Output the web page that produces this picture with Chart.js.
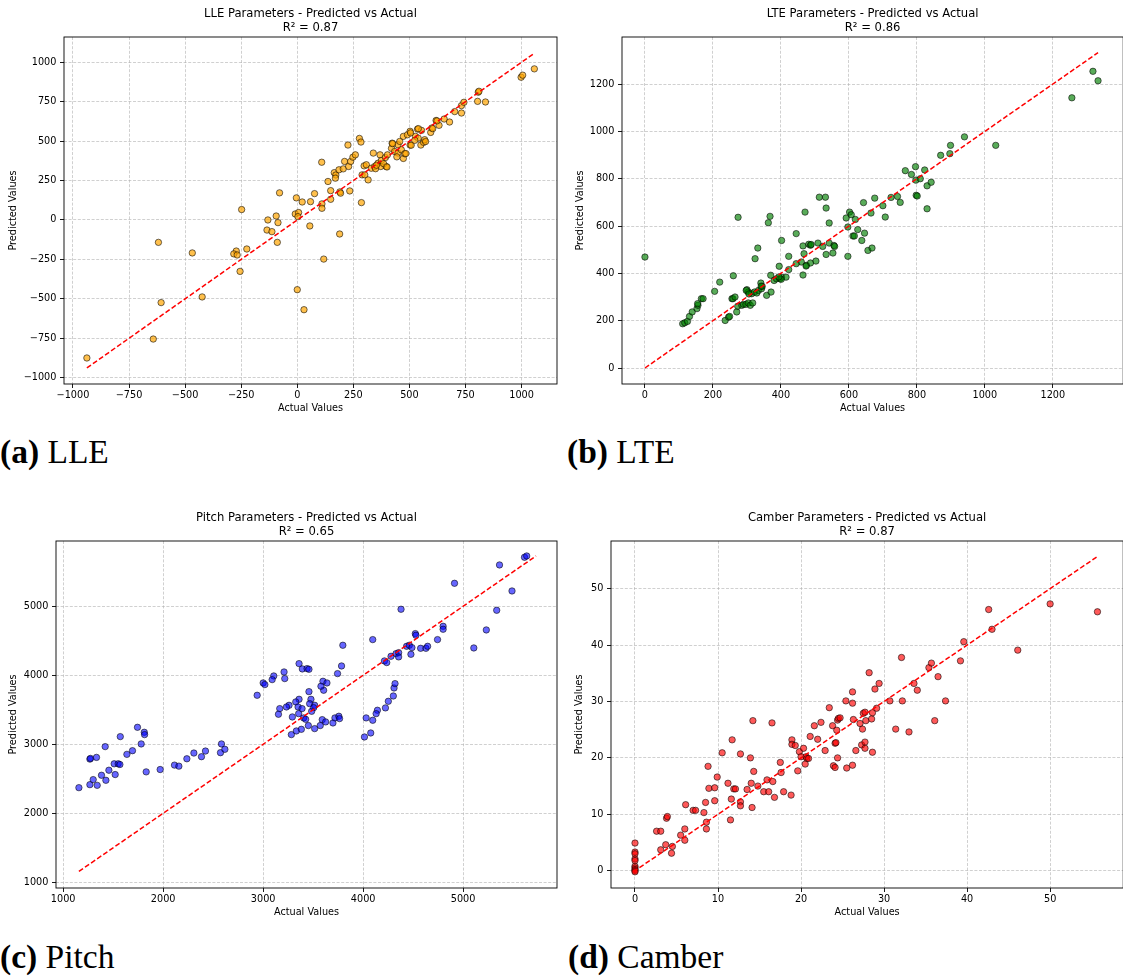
<!DOCTYPE html>
<html><head><meta charset="utf-8">
<script src="https://cdn.jsdelivr.net/npm/chart.js@4.4.1/dist/chart.umd.min.js"></script>
<style>
html,body{margin:0;padding:0;background:#fff;width:1123px;height:976px;overflow:hidden;position:relative}
canvas{position:absolute}
.cap{position:absolute;font-family:"Liberation Serif","Times New Roman",serif;font-size:33.5px;line-height:34px;color:#000;white-space:nowrap}
.cap b{font-weight:bold}
</style></head><body>
<canvas id="cA" width="562" height="420" style="left:0;top:0"></canvas>
<canvas id="cB" width="566" height="420" style="left:562px;top:0"></canvas>
<canvas id="cC" width="562" height="420" style="left:0;top:500px"></canvas>
<canvas id="cD" width="566" height="420" style="left:562px;top:500px"></canvas>
<div class="cap" style="left:0;top:435px"><b>(a)</b> LLE</div>
<div class="cap" style="left:567px;top:435px"><b>(b)</b> LTE</div>
<div class="cap" style="left:0;top:940px"><b>(c)</b> Pitch</div>
<div class="cap" style="left:568px;top:940px"><b>(d)</b> Camber</div>
<script>
// ---------- LLE ----------
const lleActual = [-938,-642,-607,-619,-468,-424,-272,-283,-268,-225,-255,-248,-135,-113,-131,-94,-86,-89,-79,0,30,-4,-9,6,3,22,59,56,77,110,110,109,118,137,149,149,165,172,170,190,193,189,186,205,211,229,234,238,248,259,226,277,284,286,289,301,298,308,316,330,345,360,339,369,375,372,396,393,402,420,423,434,449,449,457,464,473,479,473,491,503,503,527,536,539,551,554,563,568,595,600,619,632,655,679,702,732,732,743,804,839,807,810,998,1005,1057,425,444,484,508,505,524,540,572,604,623,349,353,385,400];
const llePredicted = [-875,-755,-524,-142,-209,-488,-197,-215,-222,-184,-326,66,-64,-74,0,25,-17,-142,172,-442,-569,140,38,47,21,114,116,-38,167,102,74,366,-248,244,186,131,300,285,265,178,170,-89,318,324,371,339,184,371,398,413,475,517,494,110,286,286,343,350,254,328,339,360,424,413,377,339,339,396,413,454,487,434,424,477,498,445,390,420,530,540,562,475,530,576,519,475,568,492,509,555,583,631,600,640,621,687,725,678,746,752,748,810,816,905,918,958,484,400,421,474,552,505,579,497,579,628,325,347,357,336];
const lleTicks = [-1000,-750,-500,-250,0,250,500,750,1000];
const lleXRange = [-1040,1158];
const lleYRange = [-1040,1160];

// ---------- LTE ----------
const lteActual = [0,111,117,125,131,139,153,156,155,166,171,205,220,260,274,236,246,249,256,259,265,270,273,285,290,297,304,310,317,300,304,314,322,329,334,343,341,345,358,371,370,324,332,363,368,380,387,397,402,415,395,423,423,402,445,465,460,475,487,503,465,468,482,487,471,509,523,533,542,553,556,558,513,531,533,542,597,592,602,607,597,619,626,612,616,638,646,656,668,643,665,676,700,707,724,743,751,798,801,766,784,796,797,810,823,830,842,830,870,897,899,940,1032,1256,1318,1333,445,401,394,342,298,306,489,474];
const ltePredicted = [469,187,191,197,218,237,251,265,272,293,293,324,363,390,637,201,215,218,293,293,300,237,261,265,269,269,275,265,275,331,321,314,321,317,328,335,359,345,307,321,392,462,507,614,641,370,377,377,384,384,430,416,472,539,568,393,448,434,444,452,516,483,523,519,659,528,514,480,528,486,518,514,722,722,676,613,472,634,659,648,596,628,585,558,558,539,570,497,507,699,655,718,686,638,721,725,700,730,727,834,818,851,794,800,837,770,785,673,899,906,941,977,941,1142,1254,1214,441,375,385,346,328,313,522,431];
const lteTicks = [0,200,400,600,800,1000,1200];
const lteXRange = [-67.5,1407];
const lteYRange = [-67.6,1399];

// ---------- Pitch ----------
const pitchActual = [1157,1267,1300,1340,1267,1273,1333,1420,1383,1427,1457,1520,1510,1550,1567,1571,1637,1693,1743,1780,1811,1814,1830,1970,2113,2157,2237,2307,2383,2423,2583,2573,2617,2940,3000,3017,3106,3090,3209,3216,3359,3392,3439,3458,3598,3638,3605,3578,3458,3478,3465,3515,3505,3485,3359,3326,3259,3233,3166,3153,3349,3389,3405,3355,3292,3425,3452,3515,3571,3591,3625,3698,3718,3757,3764,3282,3332,3382,3744,3784,3797,4096,4379,4030,4096,4143,4130,4223,4252,4302,4309,4319,4013,4076,4213,4236,4279,4329,4355,4355,4435,4462,4488,4478,4522,4528,4575,4628,4645,4744,4800,4800,4914,5364,5489,5336,5232,5107,5614,5636];
const pitchPredicted = [2371,2415,2488,2405,2785,2795,2810,2966,2551,2478,2624,2561,2717,2717,2707,3111,2854,2907,3246,3005,3174,3140,2600,2634,2698,2683,2790,2873,2820,2902,3005,2878,2927,3710,3889,3865,3990,3937,4048,3952,4169,4092,4097,4087,3913,3889,3783,3841,3763,3652,3589,3565,3531,3478,3652,3614,3565,3541,3517,3435,3541,3517,3382,3444,3396,3362,3271,3227,3271,3357,3324,3309,3382,3406,3372,3140,3193,3217,4024,4135,4435,4517,4957,3382,3348,3493,3444,3527,3623,3700,3816,3879,3106,3164,4208,4184,4275,4314,4328,4266,4420,4435,4401,4304,4604,4580,4391,4391,4420,4517,4710,4667,5333,5599,5222,4942,4657,4396,5710,5729];
const pitchTicks = [1000,2000,3000,4000,5000];
const pitchXRange = [928,5939];
const pitchYRange = [917,5946];

// ---------- Camber ----------
const camberActual = [0,0,0,0,0,0,0,0,0,0,2.6,3.1,3.1,3.7,4.5,4.4,3.8,3.9,5.5,6.0,6.0,6.1,7.0,7.3,8.3,8.5,8.6,8.6,8.8,8.9,9.6,9.9,9.6,10.5,11.5,11.2,11.7,11.6,11.9,12.1,12.7,12.7,12.7,13.9,14.1,14.3,14.2,14.0,13.5,16.5,14.8,15.5,16.1,15.9,16.6,16.8,17.9,18.8,17.5,17.6,18.9,18.9,19.3,19.6,19.8,20.3,20.0,20.6,20.7,20.9,20.5,21.1,21.6,22.0,22.4,22.9,23.4,23.8,24.1,24.2,24.4,23.9,24.1,24.3,24.4,24.5,24.7,25.4,26.2,26.2,25.5,26.2,26.3,26.6,27.1,27.4,27.3,27.7,27.7,28.6,27.5,27.7,27.8,28.5,28.6,29.1,28.2,28.9,29.4,30.7,31.4,32.1,32.2,33.0,33.6,34.0,35.4,35.7,36.5,36.1,37.4,39.2,39.6,42.6,43.0,46.1,50.0,55.7];
const camberPredicted = [4.9,3.3,3.0,2.1,1.8,0.8,0.5,0.2,0,-0.2,7.0,7.0,3.7,4.6,4.3,3.1,9.3,9.6,6.3,7.4,5.4,11.7,10.7,10.7,10.3,12.1,8.6,7.4,18.5,14.6,14.7,16.6,12.4,20.9,9.0,15.5,23.2,12.7,14.5,14.5,20.7,12.2,11.5,20.0,11.2,17.6,26.6,15.5,14.4,26.2,15.0,14.0,14.0,16.1,15.8,13.0,14.0,13.4,19.2,17.4,23.2,22.4,22.2,17.7,21.1,21.7,20.2,20.2,19.9,19.9,18.9,23.8,25.7,23.3,26.3,21.3,28.9,25.7,22.6,22.7,20.0,18.6,18.3,24.9,26.7,27.0,27.1,30.1,29.7,31.7,18.2,18.7,26.8,21.3,26.1,25.1,22.3,22.8,21.7,21.0,27.9,28.1,26.6,26.9,28.0,28.8,35.1,32.2,33.2,30.1,25.1,37.8,30.1,24.6,33.2,32.0,36.0,36.8,34.4,26.6,30.1,37.2,40.6,46.3,42.8,39.1,47.3,45.9];
const camberTicks = [0,10,20,30,40,50];
const camberXRange = [-2.89,58.8];
const camberYRange = [-3.07,58.45];

const FONT = 'DejaVu Sans';
const fmt = v => (v < 0 ? '\u2212' + Math.abs(v) : String(v));

const framePlugin = {
  id: 'frame',
  afterDatasetsDraw(chart) {
    const {ctx, chartArea: a} = chart;
    ctx.save();
    ctx.strokeStyle = '#000';
    ctx.lineWidth = 0.9;
    ctx.setLineDash([]);
    ctx.strokeRect(a.left, a.top, a.right - a.left, a.bottom - a.top);
    ctx.restore();
  }
};

function makeChart(id, o) {
  const pts = o.actual.map((v, i) => ({x: v, y: o.pred[i]}));
  const lo = Math.min(Math.min(...o.actual), Math.min(...o.pred));
  const hi = Math.max(Math.max(...o.actual), Math.max(...o.pred));
  const grid = {color: 'rgba(176,176,176,0.75)', lineWidth: 0.8, drawTicks: true, tickLength: 4,
                tickColor: '#000', tickWidth: 0.9, tickBorderDash: []};
  const border = {display: false, dash: [3, 1.6]};
  const tickFont = {family: FONT, size: 9.7};
  new Chart(document.getElementById(id), {
    type: 'scatter',
    data: {datasets: [
      {data: [{x: lo, y: lo}, {x: hi, y: hi}], showLine: true, borderColor: '#ff0000', borderWidth: 1.5,
       borderDash: [5, 2.4], pointRadius: 0, order: 0},
      {data: pts, backgroundColor: o.fill, borderColor: 'rgba(0,0,0,0.7)', borderWidth: 0.8,
       pointRadius: 3.2, order: 1}
    ]},
    options: {
      responsive: false, animation: false, devicePixelRatio: 1,
      layout: {padding: {left: 0, right: o.padR, top: o.padT, bottom: 0}},
      plugins: {
        legend: {display: false}, tooltip: {enabled: false},
        title: {display: true, text: [o.title, o.r2], fullSize: false, color: '#000',
                font: {family: FONT, size: 11.6, weight: 'normal', lineHeight: 1.2},
                padding: {top: 7, bottom: 2.16}}
      },
      scales: {
        x: {type: 'linear', min: o.xr[0], max: o.xr[1],
            afterBuildTicks: s => { s.ticks = o.ticks.map(v => ({value: v})); },
            afterFit: s => { s.height = o.xh; },
            grid, border,
            ticks: {autoSkip: false, maxRotation: 0, padding: 1.5, color: '#000', font: tickFont, callback: fmt},
            title: {display: true, text: 'Actual Values', color: '#000', font: tickFont,
                    padding: {top: 0, bottom: o.xtPad}}},
        y: {type: 'linear', min: o.yr[0], max: o.yr[1],
            afterBuildTicks: s => { s.ticks = o.ticks.map(v => ({value: v})); },
            afterFit: s => { s.width = o.yw; },
            grid, border,
            ticks: {autoSkip: false, padding: 3.6, color: '#000', font: tickFont, callback: fmt},
            title: {display: true, text: 'Predicted Values', color: '#000', font: tickFont,
                    padding: {top: o.ytPad, bottom: 0}}}
      }
    },
    plugins: [framePlugin]
  });
}

makeChart('cA', {actual: lleActual, pred: llePredicted, ticks: lleTicks, xr: lleXRange, yr: lleYRange,
  title: 'LLE Parameters - Predicted vs Actual', r2: 'R\u00b2 = 0.87', fill: 'rgba(255,165,0,0.7)',
  padR: 5, padT: 0, xh: 36, yw: 64, xtPad: 6.2, ytPad: 8});
makeChart('cB', {actual: lteActual, pred: ltePredicted, ticks: lteTicks, xr: lteXRange, yr: lteYRange,
  title: 'LTE Parameters - Predicted vs Actual', r2: 'R\u00b2 = 0.86', fill: 'rgba(0,128,0,0.65)',
  padR: 4, padT: 0, xh: 36, yw: 60, xtPad: 6.2, ytPad: 13});
makeChart('cC', {actual: pitchActual, pred: pitchPredicted, ticks: pitchTicks, xr: pitchXRange, yr: pitchYRange,
  title: 'Pitch Parameters - Predicted vs Actual', r2: 'R\u00b2 = 0.65', fill: 'rgba(0,0,255,0.6)',
  padR: 5, padT: 4, xh: 32, yw: 56, xtPad: 1.5, ytPad: 7.8});
makeChart('cD', {actual: camberActual, pred: camberPredicted, ticks: camberTicks, xr: camberXRange, yr: camberYRange,
  title: 'Camber Parameters - Predicted vs Actual', r2: 'R\u00b2 = 0.87', fill: 'rgba(255,0,0,0.65)',
  padR: 4, padT: 4, xh: 32, yw: 49, xtPad: 1.5, ytPad: 11.8});
</script>
</body></html>
